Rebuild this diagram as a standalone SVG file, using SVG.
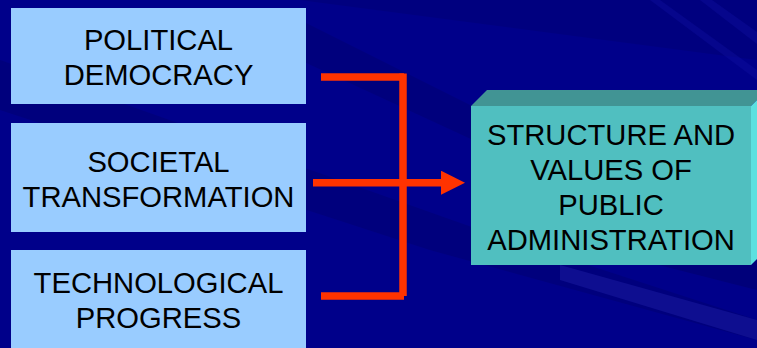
<svg xmlns="http://www.w3.org/2000/svg" width="757" height="348" viewBox="0 0 757 348">
<defs>
<style>
.lbox{fill:#99ccff}
.t{font-family:"Liberation Sans",Arial,sans-serif;font-size:29.2px;fill:#000;text-anchor:middle}
.ln{stroke:#ff3300;stroke-width:7.5;fill:none;stroke-linecap:butt}
</style>
<marker id="ah" viewBox="0 0 24 24" refX="0" refY="12" markerWidth="24" markerHeight="24" markerUnits="userSpaceOnUse" orient="auto">
<path d="M0,0 L24,12 L0,24 Z" fill="#ff3300"/>
</marker>
</defs>
<g id="background">
<rect width="757" height="348" fill="#00008a"/>
<polygon points="0,0 757,0 757,60 300,0" fill="#000078" opacity="0.6"/>
<polygon points="0,60 480,230 757,320 757,340 430,250 0,110" fill="#000070" opacity="0.5"/>
<polygon points="300,20 600,170 757,230 757,250 560,180 300,60" fill="#000070" opacity="0.5"/>
<polygon points="650,0 660,0 757,70 757,80" fill="#1010a0" opacity="0.4"/>
<polygon points="700,0 712,0 757,32 757,44" fill="#1010a0" opacity="0.4"/>
<polygon points="560,265 757,320 757,340 560,280" fill="#2020a8" opacity="0.45"/>
<polygon points="600,250 757,260 757,290" fill="#00006a" opacity="0.5"/>
</g>
<g id="connectors">
<line class="ln" x1="321" y1="77" x2="404" y2="77"/>
<line class="ln" x1="403" y1="73.5" x2="403" y2="296"/>
<line class="ln" x1="321" y1="296" x2="404" y2="296"/>
<line class="ln" x1="313" y1="182.7" x2="441" y2="182.7" marker-end="url(#ah)"/>
</g>
<g id="node-political">
<rect class="lbox" x="11" y="8" width="295" height="96"/>
<text class="t" x="158.5" y="50">POLITICAL</text>
<text class="t" x="158.5" y="85">DEMOCRACY</text>
</g>
<g id="node-societal">
<rect class="lbox" x="11" y="123" width="295" height="109"/>
<text class="t" x="158.5" y="172">SOCIETAL</text>
<text class="t" x="158.5" y="207">TRANSFORMATION</text>
</g>
<g id="node-technological">
<rect class="lbox" x="11" y="250" width="295" height="100"/>
<text class="t" x="158.5" y="293">TECHNOLOGICAL</text>
<text class="t" x="158.5" y="328">PROGRESS</text>
</g>
<g id="node-structure">
<polygon points="471,106 487,90 767,90 751,106" fill="#419494"/>
<polygon points="751,106 767,90 767,249 751,265" fill="#5ce0e0"/>
<rect x="471" y="106" width="280" height="159" fill="#50bfc0"/>
<text class="t" x="611" y="145">STRUCTURE AND</text>
<text class="t" x="611" y="180">VALUES OF</text>
<text class="t" x="611" y="215">PUBLIC</text>
<text class="t" x="611" y="250">ADMINISTRATION</text>
</g>
</svg>
